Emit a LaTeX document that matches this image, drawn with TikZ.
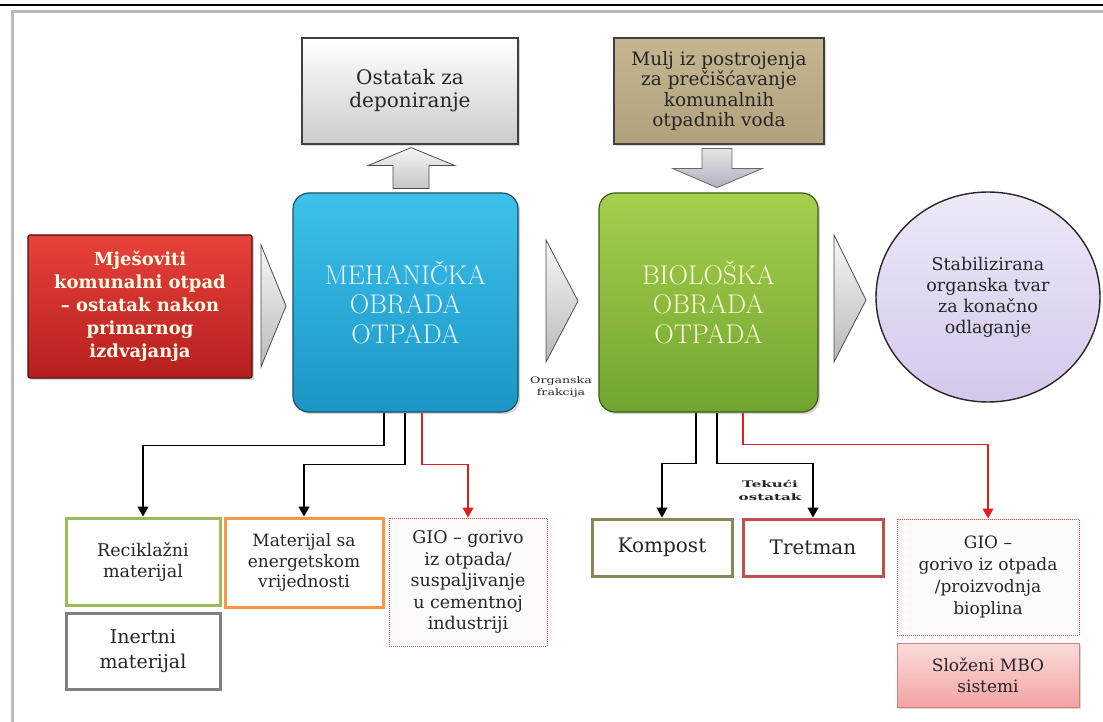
\documentclass[tikz,border=0pt]{standalone}
\usepackage{fontspec}
\newfontfamily\dv{DejaVu Serif}
\usetikzlibrary{arrows.meta,shapes.geometric,shadows,calc}
\definecolor{bluetop}{HTML}{3DC1EA}
\definecolor{bluebot}{HTML}{1B96C6}
\definecolor{blueedge}{HTML}{1D4F63}
\definecolor{greentop}{HTML}{A5CF4C}
\definecolor{greenbot}{HTML}{71A530}
\definecolor{greenedge}{HTML}{3F5A1A}
\definecolor{redtop}{HTML}{E8413B}
\definecolor{redbot}{HTML}{B51F1F}
\definecolor{rededge}{HTML}{4A1010}
\definecolor{khaki}{HTML}{C4B690}
\definecolor{khakibot}{HTML}{B0A27C}
\definecolor{lavtop}{HTML}{EEE8F8}
\definecolor{lavbot}{HTML}{D4C8EB}
\definecolor{recg}{HTML}{9BBB59}
\definecolor{inertg}{HTML}{808080}
\definecolor{orng}{HTML}{F79646}
\definecolor{olive}{HTML}{8C8455}
\definecolor{tretr}{HTML}{C0504D}
\definecolor{dotred}{HTML}{F04848}
\definecolor{pinktop}{HTML}{FBDCDC}
\definecolor{pinkbot}{HTML}{F3A3A3}
\definecolor{pinkedge}{HTML}{D08080}
\definecolor{linered}{HTML}{E02020}
\tikzset{
  txt/.style={font=\dv\fontsize{17.5}{21}\selectfont, align=center, text=black!85},
  bigtxt/.style={font=\fontsize{27}{29.5}\selectfont, align=center},
  bigbox/.style={rounded corners=16pt, line width=1.2pt, drop shadow={opacity=0.35}},
  outbox/.style={txt, line width=3pt, fill=white},
  dotbox/.style={txt, draw=dotred, densely dotted, line width=1pt, fill=red!2},
  conn/.style={line width=1.3pt, black, -{Triangle[width=11pt,length=10pt]}},
  rconn/.style={line width=1.1pt, linered, -{Triangle[width=11pt,length=10pt]}},
  tri/.style={top color=gray!6, bottom color=gray!55, draw=black!70, line width=0.8pt},
  smalllbl/.style={font=\dv\fontsize{9}{12}\selectfont, align=center, text=black!85,
                   xscale=1.4, transform shape, inner sep=1pt}
}
\begin{document}
\begin{tikzpicture}[x=1pt,y=-1pt]
\useasboundingbox (0,0) rectangle (1103,722);
\fill[white] (0,0) rectangle (1103,722);
% page frame
\draw[black, line width=1.5pt] (0,5) -- (1103,5);
\draw[gray!55, line width=3pt] (12,722) -- (12,12) -- (1103,12);

% top boxes
\node[txt, font=\dv\fontsize{20}{23}\selectfont, minimum width=216, minimum height=106,
      top color=white, bottom color=gray!40, draw=black!75, line width=1.2pt,
      drop shadow={opacity=0.3}] (ost) at (410,91) {Ostatak za\\deponiranje};
\node[txt, font=\dv\fontsize{18.5}{20.5}\selectfont, minimum width=210, minimum height=106,
      top color=khaki, bottom color=khakibot, draw=black!75, line width=1.2pt,
      drop shadow={opacity=0.3}] (mulj) at (719,91) {Mulj iz postrojenja\\za prečišćavanje\\komunalnih\\otpadnih voda};

% main row
\node[bigbox, minimum width=224, minimum height=143, rounded corners=2pt, top color=redtop,
      bottom color=redbot, draw=rededge, font=\dv\bfseries\fontsize{18}{23}\selectfont,
      align=center, text=white!90!yellow] (mix) at (140,306.5)
      {Mješoviti\\komunalni otpad\\– ostatak nakon\\primarnog\\izdvajanja};
\node[bigbox, bigtxt, minimum width=225, minimum height=219, top color=bluetop,
      bottom color=bluebot, draw=blueedge, text=white!92!cyan] (mech) at (405.5,302.5)
      {MEHANIČKA\\OBRADA\\OTPADA};
\node[bigbox, bigtxt, minimum width=219, minimum height=219, top color=greentop,
      bottom color=greenbot, draw=greenedge, text=white!85!yellow] (bio) at (708.5,302.5)
      {BIOLOŠKA\\OBRADA\\OTPADA};
\node[ellipse, txt, minimum width=224, minimum height=210, top color=lavtop,
      bottom color=lavbot, draw=black!85, line width=1.4pt] (stab) at (988,297)
      {Stabilizirana\\organska tvar\\za konačno\\odlaganje};

% triangles
\shadedraw[tri] (261,245) -- (286,306) -- (261,367) -- cycle;
\shadedraw[tri] (546,240) -- (578,301) -- (546,362) -- cycle;
\shadedraw[tri] (834,235) -- (866,300) -- (834,362) -- cycle;

% block arrows
\begin{scope}[shift={(ost.south)}]
\shadedraw[top color=gray!8, bottom color=gray!45, draw=black!70, line width=0.8pt]
  (1,3) -- (45,21) -- (19,21) -- (19,44) -- (-17,44) -- (-17,21) -- (-42,21) -- cycle;
\end{scope}
\begin{scope}[shift={(mulj.south)}]
\shadedraw[top color=gray!20, bottom color=blue!12!gray!55, draw=black!60, line width=0.8pt]
  (-17,4) -- (13,4) -- (13,24) -- (43,24) -- (-2,43) -- (-46,24) -- (-17,24) -- cycle;
\end{scope}

\node[smalllbl] (orgfr) at (561,387) {Organska\\frakcija};
\node[smalllbl, font=\dv\bfseries\fontsize{9}{13}\selectfont, xscale=1.2] (tek) at (770,490) {Tekući\\ostatak};

% lower boxes (MO)
\node[outbox, draw=recg, minimum width=154, minimum height=87] (recik) at (143,561.5) {Reciklažni\\materijal};
\node[outbox, draw=inertg, minimum width=154, minimum height=76,
      font=\dv\fontsize{19}{25}\selectfont] (inert) at (143,651) {Inertni\\materijal};
\node[outbox, draw=orng, minimum width=158, minimum height=89,
      font=\dv\fontsize{17}{20.5}\selectfont] (mat) at (304,562.5) {Materijal sa\\energetskom\\vrijednosti};
\node[dotbox, minimum width=158, minimum height=128,
      font=\dv\fontsize{17.5}{21.5}\selectfont] (gioL) at (468,582)
      {GIO – gorivo\\iz otpada/\\suspaljivanje\\u cementnoj\\industriji};

% lower boxes (BO)
\node[outbox, draw=olive, minimum width=140, minimum height=57,
      font=\dv\fontsize{20}{23}\selectfont] (komp) at (662,547.5) {Kompost};
\node[outbox, draw=tretr, minimum width=140, minimum height=57,
      font=\dv\fontsize{20}{23}\selectfont] (tret) at (813,547.5) {Tretman};
\node[dotbox, minimum width=182, minimum height=116,
      font=\dv\fontsize{17}{22}\selectfont] (gioR) at (988,577)
      {GIO –\\gorivo iz otpada\\/proizvodnja\\bioplina};
\node[txt, font=\dv\fontsize{17}{21}\selectfont, minimum width=182, minimum height=64,
      top color=pinktop, bottom color=pinkbot, draw=pinkedge, line width=1pt,
      drop shadow={opacity=0.3}] (slozeni) at (988,675) {Složeni MBO\\sistemi};

% connectors
\draw[conn] ([xshift=-21.5]mech.south) -- ++(0,33) -| (recik.north);
\draw[conn] ([xshift=-0.5]mech.south) -- ++(0,52) -| (mat.north);
\draw[rconn] ([xshift=16.5]mech.south) -- ++(0,52) -| (gioL.north);
\draw[conn] ([xshift=-12.5]bio.south) -- ++(0,51) -| (komp.north);
\draw[conn] ([xshift=8.5]bio.south) -- ++(0,51) -| (tret.north);
\draw[rconn] ([xshift=34.5]bio.south) -- ++(0,32) -| (gioR.north);
\end{tikzpicture}
\end{document}
